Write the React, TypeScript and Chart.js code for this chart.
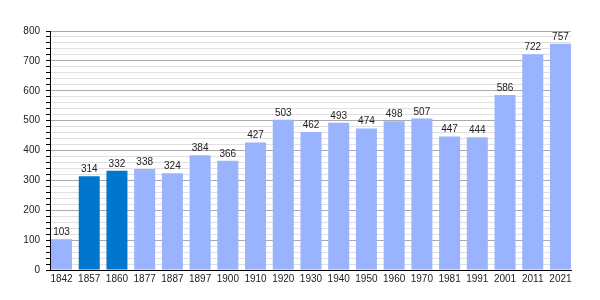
import React, { useEffect, useRef } from "react";
import { Chart, registerables } from "chart.js";

Chart.register(...registerables);

const years = ["1842", "1857", "1860", "1877", "1887", "1897", "1900", "1910", "1920", "1930", "1940", "1950", "1960", "1970", "1981", "1991", "2001", "2011", "2021"];
const population = [103, 314, 332, 338, 324, 384, 366, 427, 503, 462, 493, 474, 498, 507, 447, 444, 586, 722, 757];
const highlighted = ["1857", "1860"];

const FONT = '"Liberation Sans", Arial, sans-serif';

const valueLabels = {
  id: "valueLabels",
  afterDatasetsDraw(chart: any) {
    const ctx = chart.ctx;
    const meta = chart.getDatasetMeta(0);
    ctx.save();
    ctx.font = `10px ${FONT}`;
    ctx.fillStyle = "#222";
    ctx.textAlign = "center";
    ctx.textBaseline = "alphabetic";
    meta.data.forEach((bar: any, i: number) => {
      ctx.fillText(String(population[i]), bar.x, bar.y - 4);
    });
    ctx.restore();
  },
};

export default function App() {
  const ref = useRef<HTMLCanvasElement>(null);
  useEffect(() => {
    document.body.style.margin = "0";
    const chart = new Chart(ref.current!, {
      type: "bar",
      data: {
        datasets: [
          {
            data: population.map((v, i) => ({ x: i, y: v })),
            backgroundColor: years.map((y) => (highlighted.includes(y) ? "#0077cc" : "#99b3ff")),
            borderWidth: 0,
            barPercentage: 1,
            categoryPercentage: 0.758,
          },
        ],
      },
      options: {
        animation: false,
        responsive: false,
        layout: { padding: { left: 0, right: 29, top: 31, bottom: 0 } },
        plugins: { legend: { display: false }, tooltip: { enabled: false } },
        scales: {
          x: {
            type: "linear",
            min: -0.415,
            max: 18.38,
            offset: false,
            grid: { display: false, drawTicks: false, offset: false },
            border: { display: true, color: "#000", width: 1 },
            ticks: {
              stepSize: 1,
              includeBounds: false,
              autoSkip: false,
              maxRotation: 0,
              padding: 3,
              color: "#222",
              font: { family: FONT, size: 10 },
              callback: (v: any) => (Number.isInteger(v) ? years[v] : ""),
            },
            afterFit: (s: any) => {
              s.height = 30;
            },
          },
          y: {
            min: 0,
            max: 800,
            grid: {
              color: (c: any) => (c.tick && c.tick.value % 100 === 0 ? "#aaaaaa" : "#e0e0e0"),
              tickColor: "#000",
              tickLength: 4,
              lineWidth: 1,
            },
            border: { display: true, color: "#000", width: 1 },
            ticks: {
              stepSize: 20,
              autoSkip: false,
              padding: 6,
              color: "#222",
              font: { family: FONT, size: 10 },
              callback: (v: any) => (v % 100 === 0 ? String(v) : ""),
            },
            afterFit: (s: any) => {
              s.width = 50;
            },
          },
        },
      },
      plugins: [valueLabels],
    });
    return () => chart.destroy();
  }, []);
  return (
    <div style={{ position: "absolute", left: 0, top: 0, width: 600, height: 300 }}>
      <canvas ref={ref} width={600} height={300} />
    </div>
  );
}
